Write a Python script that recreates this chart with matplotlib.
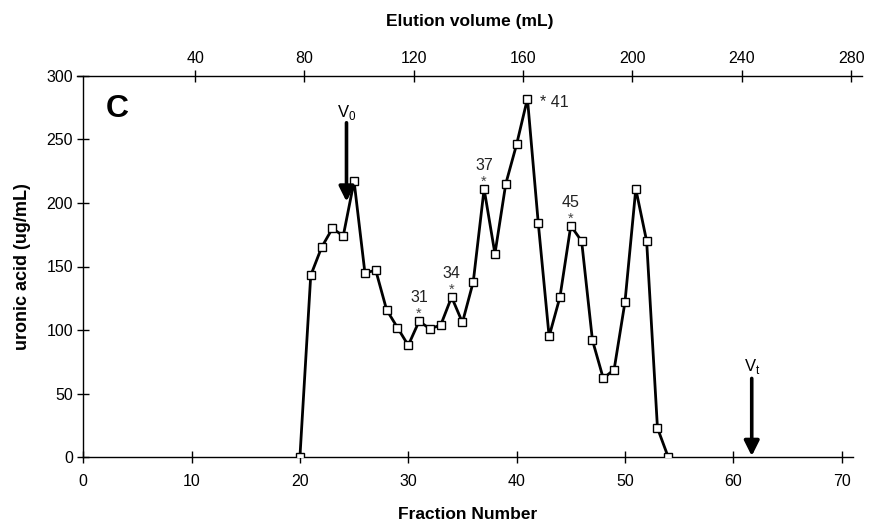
import numpy as np
import matplotlib.pyplot as plt

plt.rcParams['font.family'] = ['Liberation Sans', 'DejaVu Sans']
plt.rcParams['mathtext.fontset'] = 'custom'
plt.rcParams['mathtext.rm'] = 'Liberation Sans'

# fraction number vs uronic acid content
fractions = np.arange(20, 55)
uronic = [0, 143, 165, 180, 174, 217, 145, 147, 116, 102,
          88, 107, 101, 104, 126, 106, 138, 211, 160, 215,
          246, 282, 184, 95, 126, 182, 170, 92, 62, 69,
          122, 211, 170, 23, 0]

# marked peaks (fraction numbers)
peaks = [31, 34, 37, 41, 45]

# void / total volume markers (fraction positions)
v0_frac = 24.3
vt_frac = 61.7

x_ticks = np.arange(0, 80, 10)
y_ticks = np.arange(0, 350, 50)
vol_ticks = np.arange(40, 320, 40)

fig = plt.figure(figsize=(8.73, 5.25), dpi=100)
ax = fig.add_axes([83.2 / 873, 67.7 / 525, 769.3 / 873, 381.6 / 525])

ax.plot(fractions, uronic, color='black', lw=2.0, marker='s', ms=5.5,
        mfc='white', mec='black', mew=1.0, zorder=3)

ax.set_xlim(0, 71)
ax.set_ylim(0, 300)
ax.set_xticks(x_ticks)
ax.set_yticks(y_ticks)
ax.tick_params(axis='both', direction='inout', length=8.5, width=1.0,
               labelsize=11.5)
ax.tick_params(axis='x', pad=8)
ax.tick_params(axis='y', pad=3)
for s in ['top', 'right']:
    ax.spines[s].set_visible(False)
for s in ['left', 'bottom']:
    ax.spines[s].set_linewidth(1.0)

ax.set_xlabel('Fraction Number', fontsize=12.5, fontweight='bold', labelpad=13)
ax.set_ylabel('uronic acid (ug/mL)', fontsize=13, fontweight='bold',
              labelpad=11)

# peak labels
for p in peaks:
    val = uronic[list(fractions).index(p)]
    if p == 41:
        ax.annotate('* 41', xy=(p, val), xytext=(9, -3),
                    textcoords='offset points', ha='left', va='center',
                    fontsize=11.5, color='#222222')
    else:
        ax.annotate('*', xy=(p, val), xytext=(0, 5),
                    textcoords='offset points', ha='center', va='center',
                    fontsize=10.5, color='#444444')
        ax.annotate(str(p), xy=(p, val), xytext=(0, 17),
                    textcoords='offset points', ha='center', va='center',
                    fontsize=11.5, color='#222222')

# V0 and Vt arrows
arrow = dict(arrowstyle='-|>,head_width=0.3,head_length=0.6', lw=2.6,
             color='black', mutation_scale=15, shrinkA=0, shrinkB=0)
ax.annotate('', xy=(v0_frac, 201), xytext=(v0_frac, 263), arrowprops=arrow)
ax.text(v0_frac, 271, r'V$_0$', ha='center', va='center', fontsize=12)
ax.annotate('', xy=(vt_frac, 1), xytext=(vt_frac, 62), arrowprops=arrow)
ax.text(vt_frac, 71, r'V$_{\rm t}$', ha='center', va='center', fontsize=12)

ax.text(3.1, 274, 'C', ha='center', va='center', fontsize=23,
        fontweight='bold')

# top axis: elution volume
ax2 = fig.add_axes([77 / 873, 67.7 / 525, 785 / 873, 381.6 / 525])
ax2.patch.set_alpha(0)
ax2.set_xlim(-3.2, 284)
ax2.set_ylim(0, 1)
for s in ['bottom', 'left', 'right']:
    ax2.spines[s].set_visible(False)
ax2.spines['top'].set_linewidth(1.0)
ax2.xaxis.tick_top()
ax2.xaxis.set_label_position('top')
ax2.set_xticks(vol_ticks)
ax2.set_yticks([])
ax2.tick_params(axis='x', direction='inout', length=8.5, width=1.0,
                labelsize=11.5, pad=3)
ax2.set_xlabel('Elution volume (mL)', fontsize=12.5, fontweight='bold',
               labelpad=18)

fig.savefig('out.png', dpi=100)
